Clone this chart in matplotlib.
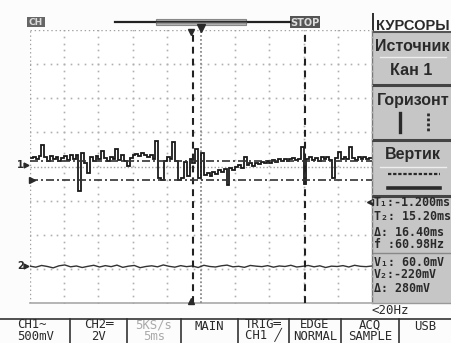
import matplotlib
matplotlib.use("Agg")
import matplotlib.pyplot as plt
import numpy as np
from matplotlib.patches import Rectangle

# channel 1 samples (mV, 500 mV/div), evenly spread over the 50 ms screen
ch1_mv = [100, 120, 90, 130, 290, 110, 60, 130, 80, 120, 50, 100, 130, 70, 140, 90,
          150, -390, 180, 20, -120, 110, 60, 130, 80, 200, 100, 60, 120, 90, 230, 70,
          140, 60, -20, 100, 140, 160, 130, 170, 140, 110, 150, 90, 350, -200, -230, 60,
          120, 80, 330, 60, -220, -200, 40, -160, 90, 20, 230, -200, 180, -150, -120, -160,
          -100, -140, -80, -110, -60, -300, -40, -70, -30, 0, -40, 110, -10, 20, -20, 30,
          10, 40, 20, 60, 30, 70, 40, 80, 50, 90, 60, 80, 100, 70, 90, 260,
          -280, 80, 110, 70, 100, 60, 110, 80, 120, 70, -200, 100, 190, 80, 120, 90,
          260, 100, 70, 110, 90, 120, 80, 100]
# channel 2 samples (mV, 2 V/div)
ch2_mv = [20, -40, 60, 0, -80, 40, 90, -20, 30, -60, 10, 70, -30, 50, -10, 80, -50, 20,
          60, -70, 0, 40, -20, 90, 10, -40, 50, -10, 30, -60, 70, 0, -30, 40, 80, -20,
          10, -50, 60, 20, -10, 50, -40, 30, 0, 70, -30, 10, 60, -20, 40, -60, 20, 0,
          50, -30, 70, 10, -10, 30]

ch1_scale, ch2_scale = 500.0, 2000.0   # mV/div
ch1_gnd, ch2_gnd = 0.05, -2.93         # ground position, div
tdiv = 5.0                             # ms/div
t1, t2 = -1.2, 15.2                    # time cursors, ms
v1, v2 = 60.0, -220.0                  # voltage cursors, mV
trig_marks = [-1.45, 0.0]              # ms

menu = ["КУРСОРЫ", "Источник", "Кан 1", "Горизонт", "Вертик"]
readout = ["T\u2081:-1.200ms", "T\u2082: 15.20ms", "\u0394: 16.40ms", "f :60.98Hz",
           "V\u2081: 60.0mV", "V\u2082:-220mV", "\u0394: 280mV"]
bar_top = ["CH1~", "CH2\u2550", "5KS/s", "MAIN", "TRIG\u2550", "EDGE", "ACQ", "USB"]
bar_bot = ["500mV", "2V", "5ms", "", "CH1 \u2571", "NORMAL", "SAMPLE", ""]

W, H = 452, 343
fig = plt.figure(figsize=(W/100, H/100), dpi=100, facecolor="#fcfcfc")
bg = fig.add_axes([0, 0, 1, 1])
bg.set_xlim(0, W); bg.set_ylim(H, 0); bg.axis("off")

sans = ["Liberation Sans", "DejaVu Sans"]
mono = ["DejaVu Sans Mono", "DejaVu Sans"]
dark = "#2a2a2a"

# screen area
x0, x1, y0, y1 = 30, 372, 30, 303
bg.add_patch(Rectangle((x0, y0), x1-x0, y1-y0, fc="white", ec="none"))

# top status line
bg.add_patch(Rectangle((27, 17), 18, 10, fc="#666666", ec="none"))
bg.text(36, 22.5, "CH", color="#dddddd", fontsize=6.5, fontweight="bold", ha="center", va="center")
bg.plot([115, 290], [22, 22], color="#222222", lw=1.6)
bg.add_patch(Rectangle((156, 19), 90, 6, fc="#b4b4b4", ec="#888888", lw=0.8))
bg.plot([156, 246], [22, 22], color="#555555", lw=1.0)
bg.add_patch(Rectangle((290, 16), 30, 12, fc="#555555", ec="none"))
bg.text(305, 22.5, "STOP", color="#dddddd", fontsize=7, fontweight="bold", ha="center", va="center")

# cursor menu panel
bg.add_patch(Rectangle((372, 13), 2.5, 18, fc="#333333", ec="none"))
bg.text(376, 30.5, menu[0], fontsize=10.5, fontweight="bold", family=sans, color=dark, va="baseline")
bg.add_patch(Rectangle((373, 31), W-373, y1-31, fc="#c6c6c6", ec="none"))
bg.plot([373, W], [31.5, 31.5], color="#555555", lw=1.5)
bg.plot([372.5, 372.5], [31, y1], color="#777777", lw=1.0)
bg.text(412, 51, menu[1], fontsize=11.5, fontweight="bold", family=sans, color=dark, ha="center", va="baseline")
bg.plot([380, 446], [57, 57], color="#eeeeee", lw=1.0)
bg.text(411, 75, menu[2], fontsize=11.5, fontweight="bold", family=sans, color=dark, ha="center", va="baseline")
for yy in (85, 140, 196):
    bg.plot([373, W], [yy, yy], color="#444444", lw=2.2)
bg.text(413, 105, menu[3], fontsize=11.5, fontweight="bold", family=sans, color=dark, ha="center", va="baseline")
bg.plot([400, 400], [113, 132], color=dark, lw=2.4)
bg.plot([428, 428], [113, 132], color=dark, lw=2.0, dashes=(1, 0.8))
bg.text(413, 159, menu[4], fontsize=11.5, fontweight="bold", family=sans, color=dark, ha="center", va="baseline")
bg.plot([380, 446], [167, 167], color="#eeeeee", lw=1.0)
bg.plot([388, 440], [174, 174], color=dark, lw=1.6, dashes=(1.5, 0.8))
bg.plot([388, 440], [188, 188], color=dark, lw=2.6)

# cursor readouts
for s, yy in zip(readout, [202, 217, 232, 245, 262, 275, 288]):
    bg.text(374, yy, s, fontsize=8.4, fontweight="bold", family=mono, color=dark, va="center")
bg.plot([373, W], [253, 253], color="#888888", lw=1.0)
bg.plot([370.5], [202], marker="<", ms=4, color=dark, clip_on=False)
bg.plot([373, W], [y1, y1], color="#999999", lw=1.0)
bg.text(372, 311, "<20Hz", fontsize=9, family=mono, color=dark, va="center")

# bottom softkey bar
seps = [70, 127, 181, 238, 289, 341, 399]
bg.plot([0, W], [318.5, 318.5], color="#333333", lw=1.2)
for xx in seps:
    bg.plot([xx, xx], [318.5, H], color="#333333", lw=1.2)
lefts = [0] + seps
rights = seps + [W]
for i, (a, b) in enumerate(zip(lefts, rights)):
    col = "#aaaaaa" if i == 2 else dark
    if bar_bot[i]:
        s = bar_top[i] + "\n" + bar_bot[i]
        kw = dict(va="bottom", linespacing=0.8)
        yy = 342.5
    else:
        s = bar_top[i]
        kw = dict(va="center")
        yy = 327
    if i == 0:
        bg.text(17, yy, s, fontsize=8.8, family=mono, color=col, **kw)
    else:
        bg.text((a + b) / 2, yy, s, fontsize=8.8, family=mono, color=col, ha="center",
                multialignment="center", **kw)

# channel ground markers
gy1 = (y0 + y1) / 2 - ch1_gnd * (y1 - y0) / 8
gy2 = (y0 + y1) / 2 - ch2_gnd * (y1 - y0) / 8
for lab, gy in (("1", gy1), ("2", gy2)):
    bg.text(17, gy, lab, fontsize=7, fontweight="bold", color=dark, va="center")
    bg.plot([26], [gy], marker=">", ms=3.5, color=dark)

# waveform screen
scr = fig.add_axes([x0/W, 1 - y1/H, (x1-x0)/W, (y1-y0)/H])
scr.set_xlim(-5*tdiv, 5*tdiv); scr.set_ylim(-4, 4); scr.axis("off")

gcol = "#b0b0b0"
yd = np.arange(-4, 4.01, 0.2)
xd = np.arange(-5*tdiv, 5*tdiv+0.01, tdiv/5)
for k in range(-4, 6):
    if k == 0:
        continue
    scr.plot(np.full_like(yd, k*tdiv), yd, ls="none", marker="s", ms=1.2, color=gcol, mew=0)
for k in range(-3, 4):
    if k == 0:
        continue
    scr.plot(xd, np.full_like(xd, k), ls="none", marker="s", ms=1.2, color=gcol, mew=0)
# edges and centre lines with finer ticks
scr.plot([-5*tdiv, -5*tdiv], [-4, 4], color="#a0a0a0", lw=1.0, dashes=(1, 2))
scr.plot([-5*tdiv, 5*tdiv], [4, 4], color="#a0a0a0", lw=1.0, dashes=(1, 2))
scr.plot([-5*tdiv, 5*tdiv], [-4, -4], color="#a8a8a8", lw=1.2, clip_on=False)
scr.plot([0, 0], [-4, 4], color="#8a8a8a", lw=1.3, dashes=(1, 1.2))
scr.plot([-5*tdiv, 5*tdiv], [0, 0], color="#a0a0a0", lw=1.0, dashes=(1, 1.5))

# traces
n1 = len(ch1_mv)
tt1 = -5*tdiv + 10*tdiv/n1 * (np.arange(n1) + 0.5)
scr.plot(tt1, np.array(ch1_mv)/ch1_scale + ch1_gnd, color="#1a1a1a", lw=1.3,
         drawstyle="steps-mid", solid_joinstyle="miter")
n2 = len(ch2_mv)
tt2 = np.linspace(-5*tdiv, 5*tdiv, n2)
scr.plot(tt2, np.array(ch2_mv)/ch2_scale + ch2_gnd, color="#333333", lw=1.0)

# cursors
for tc in (t1, t2):
    scr.axvline(tc, color="#222222", lw=1.5, dashes=(3.3, 2.4))
for vc in (v1, v2):
    scr.axhline(vc/ch1_scale + ch1_gnd, color="#333333", lw=1.2, dashes=(4.8, 1.8, 1.2, 1.8))
scr.plot([-5*tdiv + 0.3], [v2/ch1_scale + ch1_gnd], marker=">", ms=4, color=dark, clip_on=False)

# trigger position markers
scr.plot([trig_marks[0]], [3.95], marker="v", ms=5, color=dark, clip_on=False)
scr.plot([trig_marks[1]], [4.05], marker="v", ms=6, color=dark, clip_on=False)
scr.plot([trig_marks[0]], [-3.93], marker="^", ms=5, color=dark, clip_on=False)

fig.savefig("out.png", dpi=100, facecolor=fig.get_facecolor())
